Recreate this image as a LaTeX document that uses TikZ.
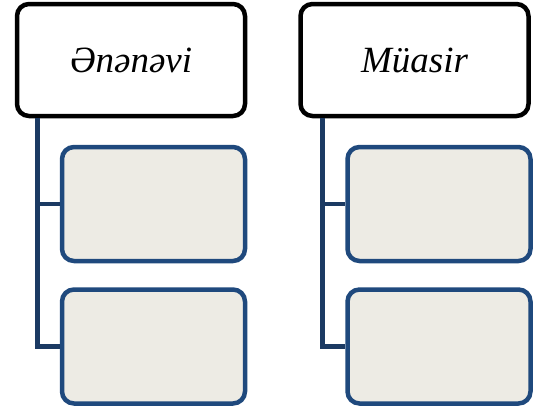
\documentclass[tikz,border=0pt]{standalone}
\usepackage{fontspec}
\setmainfont{Liberation Serif}
\usetikzlibrary{positioning}
\definecolor{boxblue}{HTML}{1F497D}
\definecolor{linkblue}{HTML}{1B3A63}
\definecolor{boxfill}{HTML}{EDEBE4}
\tikzstyle{head} = [draw=black, line width=4.5pt, rounded corners=12pt, fill=white, minimum width=228pt, minimum height=112pt, font=\fontsize{37}{42}\selectfont\itshape]
\tikzstyle{item} = [draw=boxblue, line width=4.5pt, rounded corners=12pt, fill=boxfill, minimum width=183pt, minimum height=114pt]
\tikzstyle{link} = [draw=linkblue, line width=4.5pt]

\begin{document}
\begin{tikzpicture}[x=1pt,y=-1pt]
\useasboundingbox (0,0) rectangle (539,410);
\node[head] (trad) at (131,60) {Ənənəvi};
\node[head] (mod) at (414.5,60) {Müasir};
\node[item] (trad1) at (153.5,204) {};
\node[item] (trad2) at (153.5,346.5) {};
\node[item] (mod1) at (439,204) {};
\node[item] (mod2) at (439,346.5) {};
\draw[link] ([xshift=22.5pt]trad.south west) |- (trad2.west);
\draw[link] ([xshift=22.5pt]trad.south west |- trad1.west) -- (trad1.west);
\draw[link] ([xshift=24pt]mod.south west) |- (mod2.west);
\draw[link] ([xshift=24pt]mod.south west |- mod1.west) -- (mod1.west);
\end{tikzpicture}
\end{document}
